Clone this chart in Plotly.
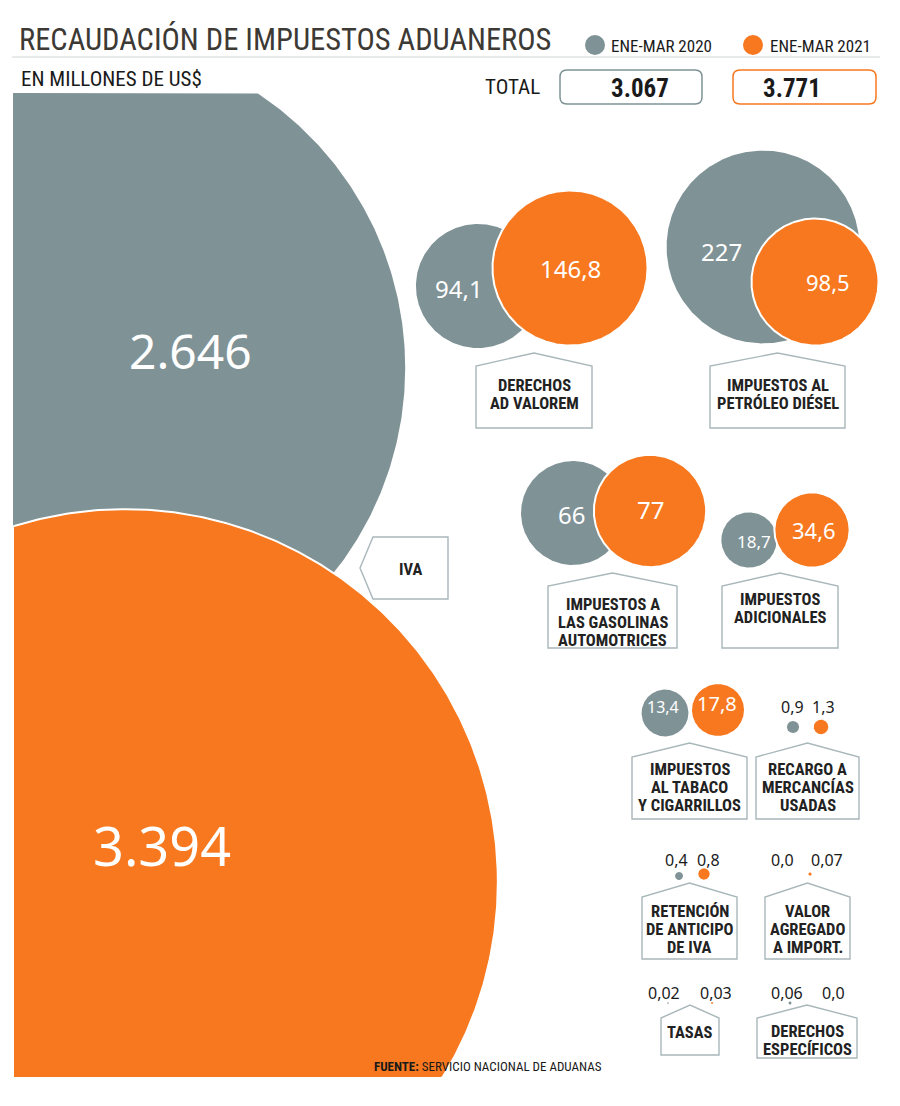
import numpy as np
import plotly.graph_objects as go

# ---------------- data ----------------
categories = [
    "IVA",
    "DERECHOS\nAD VALOREM",
    "IMPUESTOS AL\nPETRÓLEO DIÉSEL",
    "IMPUESTOS A\nLAS GASOLINAS\nAUTOMOTRICES",
    "IMPUESTOS\nADICIONALES",
    "IMPUESTOS\nAL TABACO\nY CIGARRILLOS",
    "RECARGO A\nMERCANCÍAS\nUSADAS",
    "RETENCIÓN\nDE ANTICIPO\nDE IVA",
    "VALOR\nAGREGADO\nA IMPORT.",
    "TASAS",
    "DERECHOS\nESPECÍFICOS",
]
values_2020 = [2646, 94.1, 227, 66, 18.7, 13.4, 0.9, 0.4, 0.0, 0.02, 0.06]
values_2021 = [3394, 146.8, 98.5, 77, 34.6, 17.8, 1.3, 0.8, 0.07, 0.03, 0.0]
labels_2020 = ["2.646", "94,1", "227", "66", "18,7", "13,4", "0,9", "0,4", "0,0", "0,02", "0,06"]
labels_2021 = ["3.394", "146,8", "98,5", "77", "34,6", "17,8", "1,3", "0,8", "0,07", "0,03", "0,0"]
series_names = ["ENE-MAR 2020", "ENE-MAR 2021"]
totals = ["3.067", "3.771"]

# ---------------- styles / layout ----------------
GRAY = "#7f9296"
ORANGE = "#f7781e"
DARK = "#1a1a1a"
TITLE_C = "#3d3935"
BOX_LINE = "#a9b7ba"
NARROW = "Roboto Condensed, DejaVu Sans Condensed, sans-serif"
NUMF = "Noto Sans, Open Sans, sans-serif"
W, H = 900, 1106
OFF = 8  # page body margin of the browser
K = 6.4  # px per sqrt(million US$)

c20 = [(76, 368), (478, 286), (763, 247), (573, 513), (749, 540), (665, 713),
       (793, 727), (679, 876), (783, 874), (668, 1003), (790, 1003)]
c21 = [(125, 882), (570, 268), (815, 282), (650, 511), (812, 530), (718, 710),
       (821, 727), (704, 874), (810, 874), (712, 1003), (832, 1003)]
t20 = [(190, 350, 48), (459, 288, 24), (721, 251, 24), (571, 514, 24), (754, 541, 17),
       (663, 707, 16), (792, 707, 16), (676, 860, 16), (782, 860, 16), (664, 993, 16), (787, 993, 16)]
t21 = [(162, 845, 54), (570, 268, 24), (828, 282, 22), (650, 509, 24), (814, 530, 22),
       (717, 703, 20), (823, 707, 16), (708, 860, 16), (827, 860, 16), (716, 993, 16), (833, 993, 16)]
# house boxes: x0, x1, apex_y, shoulder_y, bottom_y, first line y, line step
boxes = [None,
         (476, 592, 353, 366, 428, 385, 18),
         (710, 845, 353, 366, 428, 385, 18),
         (548, 677, 573, 586, 648, 604, 18),
         (722, 838, 573, 586, 648, 599, 18),
         (632, 747, 743, 757, 819, 769, 18),
         (756, 859, 743, 757, 819, 769, 18),
         (642, 737, 883, 897, 959, 911, 18),
         (765, 850, 883, 897, 959, 911, 18),
         (661, 719, 1005, 1018, 1055, 1032, 18),
         (757, 857, 1005, 1018, 1058, 1031, 18)]

fig = go.Figure()


def circle_xy(cx, cy, r, clip=None):
    th = np.linspace(0, 2 * np.pi, 721)
    x = cx + r * np.cos(th)
    y = cy + r * np.sin(th)
    if clip:
        x0, y0, x1, y1 = clip
        x = np.clip(x, x0, x1)
        y = np.clip(y, y0, y1)
    return x, y


clip_big = [(13, 93, W, H), (13, 0, W, 1078)]

for i in range(len(categories)):
    for vals, cen, col, j in ((values_2020, c20, GRAY, 0), (values_2021, c21, ORANGE, 1)):
        v = vals[i]
        if v <= 0:
            continue
        r = K * np.sqrt(v)
        clip = clip_big[j] if i == 0 else None
        x, y = circle_xy(cen[i][0], cen[i][1], r, clip)
        outline = j == 1 and r > 10
        fig.add_trace(go.Scatter(
            x=x, y=y, mode="lines", fill="toself", fillcolor=col,
            line=dict(color="white" if outline else col, width=2 if outline else 0),
            hoverinfo="skip", showlegend=False))

ann = []
shapes = []

# value labels
for i in range(len(categories)):
    for lab, t in ((labels_2020[i], t20[i]), (labels_2021[i], t21[i])):
        ann.append(dict(x=t[0], y=t[1], text=lab, showarrow=False, xanchor="center", yanchor="middle",
                        font=dict(family=NUMF, size=t[2], color="white" if i < 6 else DARK)))

# category boxes
for i, b in enumerate(boxes):
    if b is None:
        continue
    x0, x1, ya, ys, yb, ly, step = b
    xc = (x0 + x1) / 2
    shapes.append(dict(type="path", xref="x", yref="y",
                       path=f"M{x0},{yb} L{x0},{ys} L{xc},{ya} L{x1},{ys} L{x1},{yb} Z",
                       line=dict(color=BOX_LINE, width=1.4), fillcolor="white", layer="above"))
    for k, line in enumerate(categories[i].split("\n")):
        ann.append(dict(x=xc, y=ly + k * step, text=line, showarrow=False, xanchor="center",
                        yanchor="middle", font=dict(family=NARROW, size=16.5, color="#222222", weight=700)))

# IVA box (pointing left)
shapes.append(dict(type="path", xref="x", yref="y",
                   path="M360,568 L373,537 L448,537 L448,599 L373,599 Z",
                   line=dict(color=BOX_LINE, width=1.4), fillcolor="white", layer="above"))
ann.append(dict(x=410, y=569, text=categories[0], showarrow=False, xanchor="center", yanchor="middle",
                font=dict(family=NARROW, size=16.5, color="#222222", weight=700)))

# header
ann.append(dict(x=17, y=39, text="RECAUDACIÓN DE IMPUESTOS ADUANEROS", showarrow=False,
                xanchor="left", yanchor="middle",
                font=dict(family=NARROW, size=30.5, color=TITLE_C)))
shapes.append(dict(type="line", xref="x", yref="y", x0=12, x1=880, y0=57, y1=57,
                   line=dict(color="#cfd6d8", width=1)))
ann.append(dict(x=19, y=79, text="EN MILLONES DE US$", showarrow=False, xanchor="left",
                yanchor="middle", font=dict(family=NARROW, size=21, color=DARK)))
for cx, col, name, tx in ((595, GRAY, series_names[0], 609), (753, ORANGE, series_names[1], 768)):
    shapes.append(dict(type="circle", xref="x", yref="y", x0=cx - 10, x1=cx + 10, y0=35, y1=55,
                       fillcolor=col, line=dict(width=0)))
    ann.append(dict(x=tx, y=46, text=name, showarrow=False, xanchor="left", yanchor="middle",
                    font=dict(family=NARROW, size=17, color=DARK)))

ann.append(dict(x=512, y=87, text="TOTAL", showarrow=False, xanchor="center", yanchor="middle",
                font=dict(family=NARROW, size=21, color=DARK)))


def rrect(x0, y0, x1, y1, r):
    return (f"M{x0+r},{y0} L{x1-r},{y0} Q{x1},{y0} {x1},{y0+r} L{x1},{y1-r} Q{x1},{y1} {x1-r},{y1} "
            f"L{x0+r},{y1} Q{x0},{y1} {x0},{y1-r} L{x0},{y0+r} Q{x0},{y0} {x0+r},{y0} Z")


for (x0, x1, col, tx), tot in zip(((560, 702, GRAY, 640), (733, 876, ORANGE, 792)), totals):
    shapes.append(dict(type="path", xref="x", yref="y", path=rrect(x0, 70, x1, 104, 7),
                       line=dict(color=col, width=1.5), fillcolor="white"))
    ann.append(dict(x=tx, y=88, text=f"<b>{tot}</b>", showarrow=False, xanchor="center", yanchor="middle",
                    font=dict(family=NARROW, size=25, color=DARK)))

# footer
ann.append(dict(x=372, y=1066, text="<b>FUENTE:</b> SERVICIO NACIONAL DE ADUANAS", showarrow=False,
                xanchor="left", yanchor="middle", font=dict(family=NARROW, size=13, color=DARK)))

fig.update_layout(
    width=W - OFF, height=H - OFF, autosize=False,
    margin=dict(l=0, r=0, t=0, b=0),
    paper_bgcolor="white", plot_bgcolor="white",
    xaxis=dict(range=[OFF, W], visible=False, fixedrange=True),
    yaxis=dict(range=[H, OFF], visible=False, fixedrange=True),
    shapes=shapes, annotations=ann, showlegend=False,
)

fig.write_html("out.html")
